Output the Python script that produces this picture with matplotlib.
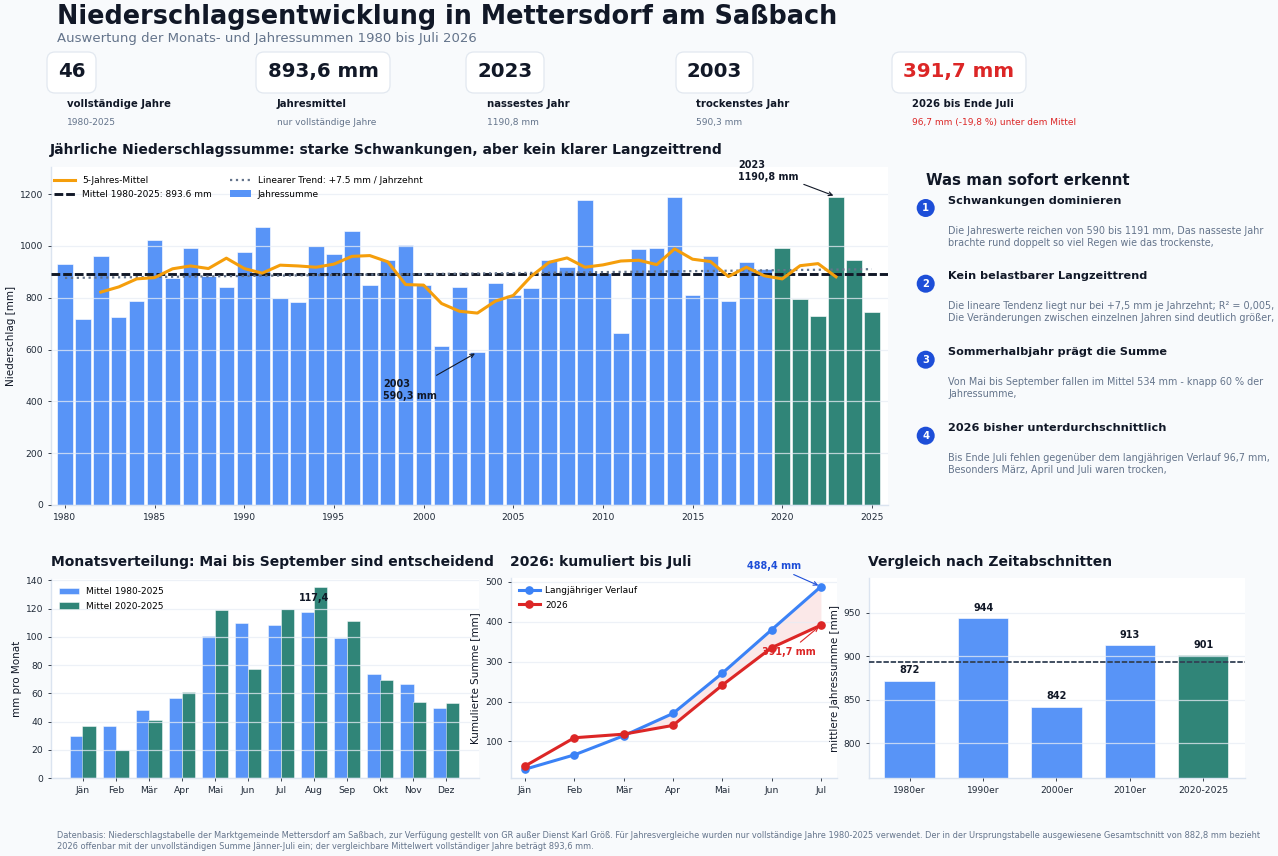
import matplotlib
matplotlib.use("Agg")
import matplotlib.pyplot as plt
from matplotlib.patches import FancyBboxPatch, Circle, Patch
from matplotlib.lines import Line2D

W, H = 1278, 856
BG = "#f8fafc"
INK = "#111827"
SLATE = "#64748b"
BLUE = "#3b82f6"
GREEN = "#0b7060"
RED = "#dc2626"
SPINE = "#dbe4f0"
GRID = "#e8edf5"
DASH = (0, (3, 1))

years = list(range(1980, 2026))
annual = [932, 719, 963, 724, 788, 1022, 875, 993, 884, 843, 978, 1075, 799, 785, 999,
          970, 1056, 848, 945, 1005, 848, 612, 840, 590.3, 856, 811, 838, 947, 918, 1178,
          894, 664, 988, 991, 1190, 812, 961, 789, 938, 913, 992, 796, 731, 1190.8, 946, 747]
ma_years = list(range(1982, 2024))
ma5 = [822, 842, 873, 878, 912, 923, 913, 953, 913, 895, 926, 923, 918, 930, 960, 963,
       939, 851, 849, 778, 748, 741, 787, 809, 883, 937, 954, 918, 927, 942, 945, 928,
       989, 949, 940, 882, 918, 885, 873, 924, 932, 881]
trend_years = [1980, 2025]
trend_vals = [876.7, 910.5]
mean_all = 893.6

months = ["Jän", "Feb", "Mär", "Apr", "Mai", "Jun", "Jul", "Aug", "Sep", "Okt", "Nov", "Dez"]
month_mean = [29.9, 36.5, 48.3, 56.6, 100.9, 109.8, 108.4, 117.4, 99, 73.5, 66.9, 49.5]
month_recent = [37, 20, 41, 60.8, 119.3, 77.3, 119.7, 135, 111, 69.5, 54.2, 53]

cum_months = months[:7]
cum_long = [30, 66, 114, 170, 271, 380, 488.4]
cum_2026 = [38, 109, 118, 140, 241, 335, 391.7]

periods = ["1980er", "1990er", "2000er", "2010er", "2020-2025"]
period_vals = [872, 944, 842, 913, 901]

kpi_values = ["46", "893,6 mm", "2023", "2003", "391,7 mm"]
kpi_labels = ["vollständige Jahre", "Jahresmittel", "nassestes Jahr", "trockenstes Jahr", "2026 bis Ende Juli"]
kpi_subs = ["1980-2025", "nur vollständige Jahre", "1190,8 mm", "590,3 mm", "96,7 mm (-19,8 %) unter dem Mittel"]

notes = [
    ("Schwankungen dominieren",
     "Die Jahreswerte reichen von 590 bis 1191 mm, Das nasseste Jahr\nbrachte rund doppelt so viel Regen wie das trockenste,"),
    ("Kein belastbarer Langzeittrend",
     "Die lineare Tendenz liegt nur bei +7,5 mm je Jahrzehnt; R² = 0,005,\nDie Veränderungen zwischen einzelnen Jahren sind deutlich größer,"),
    ("Sommerhalbjahr prägt die Summe",
     "Von Mai bis September fallen im Mittel 534 mm - knapp 60 % der\nJahressumme,"),
    ("2026 bisher unterdurchschnittlich",
     "Bis Ende Juli fehlen gegenüber dem langjährigen Verlauf 96,7 mm,\nBesonders März, April und Juli waren trocken,"),
]

footer = ("Datenbasis: Niederschlagstabelle der Marktgemeinde Mettersdorf am Saßbach, zur Verfügung gestellt von GR außer Dienst Karl Größ. "
          "Für Jahresvergleiche wurden nur vollständige Jahre 1980-2025 verwendet. Der in der Ursprungstabelle ausgewiesene Gesamtschnitt von 882,8 mm bezieht\n"
          "2026 offenbar mit der unvollständigen Summe Jänner-Juli ein; der vergleichbare Mittelwert vollständiger Jahre beträgt 893,6 mm.")

plt.rcParams["font.family"] = "DejaVu Sans"
fig = plt.figure(figsize=(W / 100, H / 100), dpi=100, facecolor=BG)


def axes_px(left, top, right, bottom):
    ax = fig.add_axes([left / W, 1 - bottom / H, (right - left) / W, (bottom - top) / H])
    ax.set_facecolor("white")
    for side in ["top", "right"]:
        ax.spines[side].set_visible(False)
    for side in ["left", "bottom"]:
        ax.spines[side].set_color(SPINE)
        ax.spines[side].set_linewidth(1)
    ax.tick_params(labelsize=6.6, length=2.5, width=0.6, colors="#1f2937", pad=3)
    ax.grid(axis="y", color=GRID, linewidth=0.9, alpha=0.75)
    ax.set_axisbelow(False)
    return ax


# main chart
ax = axes_px(51, 167, 888, 505)
colors = [GREEN if y >= 2020 else BLUE for y in years]
ax.bar(years, annual, width=0.86, color=colors, alpha=0.85, edgecolor="white", linewidth=0.5, zorder=2)
ax.axhline(mean_all, color=INK, linewidth=2.1, linestyle=DASH, zorder=3)
ax.plot(trend_years, trend_vals, color=SLATE, linewidth=1.6, linestyle=":", zorder=3)
ax.plot(ma_years, ma5, color="#f59e0b", linewidth=2.2, zorder=4)
ax.set_xlim(1979.22, 2025.9)
ax.set_ylim(0, 1305)
ax.set_xticks(range(1980, 2026, 5))
ax.set_yticks(range(0, 1201, 200))
ax.set_ylabel("Niederschlag [mm]", fontsize=7.5, color=INK)
ax.yaxis.set_label_coords(-0.042, 0.5)
handles = [Line2D([], [], color="#f59e0b", linewidth=2.2),
           Line2D([], [], color=INK, linewidth=2.1, linestyle=DASH),
           Line2D([], [], color=SLATE, linewidth=1.6, linestyle=":"),
           Patch(facecolor=BLUE, alpha=0.85)]
ax.legend(handles, ["5-Jahres-Mittel", "Mittel 1980-2025: 893.6 mm", "Linearer Trend: +7.5 mm / Jahrzehnt", "Jahressumme"],
          ncol=2, loc="upper left", bbox_to_anchor=(-0.003, 0.99), frameon=False, fontsize=6.5, borderaxespad=0.2,
          columnspacing=2, labelspacing=0.55, handlelength=2.35, handletextpad=0.75)
ax.annotate("2003\n590,3 mm", xy=(2003, 590.3), xytext=(1997.75, 443), fontsize=6.9, fontweight="bold",
            color=INK, ha="left", va="center", zorder=6,
            arrowprops=dict(arrowstyle="->", color=INK, linewidth=0.8))
ax.annotate("2023\n1190,8 mm", xy=(2023, 1190.8), xytext=(2017.53, 1290), fontsize=6.9, fontweight="bold",
            color=INK, ha="left", va="center", zorder=6, annotation_clip=False,
            arrowprops=dict(arrowstyle="->", color=INK, linewidth=0.8))

# monthly means
ax = axes_px(51, 579, 479, 778)
pos = list(range(12))
ax.bar([p - 0.19 for p in pos], month_mean, width=0.4, color=BLUE, alpha=0.85, edgecolor="white", linewidth=0.4, zorder=2, label="Mittel 1980-2025")
ax.bar([p + 0.19 for p in pos], month_recent, width=0.4, color=GREEN, alpha=0.85, edgecolor="white", linewidth=0.4, zorder=2, label="Mittel 2020-2025")
ax.text(7, 127.5, "117,4", ha="center", va="center", fontsize=6.9, fontweight="bold", color=INK, zorder=6)
ax.set_xlim(-0.96, 11.99)
ax.set_ylim(0, 141)
ax.set_xticks(pos)
ax.set_xticklabels(months)
ax.set_yticks(range(0, 141, 20))
ax.set_ylabel("mm pro Monat", fontsize=7.5, color=INK)
ax.yaxis.set_label_coords(-0.067, 0.5)
ax.legend(loc="upper left", frameon=False, fontsize=6.5, borderaxespad=0.5, labelspacing=0.6, handlelength=2.15, handletextpad=0.8)

# cumulative 2026
ax = axes_px(510.7, 578, 836.7, 778)
pos = list(range(7))
ax.fill_between(pos, cum_long, cum_2026, where=[a >= b for a, b in zip(cum_long, cum_2026)],
                color=RED, alpha=0.1, linewidth=0, interpolate=True, zorder=2)
ax.plot(pos, cum_long, color=BLUE, linewidth=2.2, marker="o", markersize=5.2, zorder=4, label="Langjähriger Verlauf")
ax.plot(pos, cum_2026, color=RED, linewidth=2.2, marker="o", markersize=5.2, zorder=5, label="2026")
ax.set_xlim(-0.29, 6.32)
ax.set_ylim(8, 510)
ax.set_xticks(pos)
ax.set_xticklabels(cum_months)
ax.set_yticks(range(100, 501, 100))
ax.set_ylabel("Kumulierte Summe [mm]", fontsize=7.5, color=INK)
ax.yaxis.set_label_coords(-0.095, 0.5)
ax.legend(loc="upper left", frameon=False, fontsize=6.5, borderaxespad=0.5, labelspacing=0.6, handlelength=2.35, handletextpad=0.6)
ax.annotate("488,4 mm", xy=(6, 488.4), xytext=(5.04, 541), fontsize=6.9, fontweight="bold", color="#1d4ed8",
            ha="center", va="center", annotation_clip=False, zorder=6,
            arrowprops=dict(arrowstyle="->", color="#1d4ed8", linewidth=0.8))
ax.annotate("391,7 mm", xy=(6, 391.7), xytext=(5.35, 325), fontsize=6.9, fontweight="bold", color=RED,
            ha="center", va="center", zorder=6,
            arrowprops=dict(arrowstyle="->", color=RED, linewidth=0.8))

# periods
ax = axes_px(868.7, 578, 1245, 778)
pos = list(range(5))
colors = [BLUE, BLUE, BLUE, BLUE, GREEN]
ax.bar(pos, period_vals, width=0.69, color=colors, alpha=0.85, edgecolor="white", linewidth=0.5, zorder=2)
ax.axhline(mean_all, color="#334155", linewidth=1.3, linestyle=DASH, zorder=3)
for p, v in zip(pos, period_vals):
    ax.text(p, v + 6, f"{v}", ha="center", va="bottom", fontsize=7, fontweight="bold", color=INK, zorder=6)
ax.set_xlim(-0.56, 4.57)
ax.set_ylim(760, 990)
ax.set_xticks(pos)
ax.set_xticklabels(periods)
ax.set_yticks([800, 850, 900, 950])
ax.set_ylabel("mittlere Jahressumme [mm]", fontsize=7.5, color=INK)
ax.yaxis.set_label_coords(-0.077, 0.5)

# everything placed by pixel: header, cards, side notes, footer
ov = fig.add_axes([0, 0, 1, 1], zorder=10)
ov.set_xlim(0, W)
ov.set_ylim(H, 0)
ov.axis("off")

ov.text(57, 17, "Niederschlagsentwicklung in Mettersdorf am Saßbach", fontsize=18.4, fontweight="bold", color=INK, va="center")
ov.text(57, 38.5, "Auswertung der Monats- und Jahressummen 1980 bis Juli 2026", fontsize=9.55, color=SLATE, va="center")

card_left = [47, 256, 466, 676, 892]
card_right = [96, 390, 544, 753, 1026]
label_x = [67, 277, 487, 696, 912]
for i in range(5):
    col = RED if i == 4 else INK
    ov.add_patch(FancyBboxPatch((card_left[i], 52), card_right[i] - card_left[i], 41,
                                boxstyle="round,pad=0,rounding_size=8", facecolor="white", edgecolor="#e2e8f0", linewidth=0.9))
    ov.text((card_left[i] + card_right[i]) / 2, 71, kpi_values[i], fontsize=14.2, fontweight="bold", color=col, ha="center", va="center")
    ov.text(label_x[i], 104, kpi_labels[i], fontsize=7.3, fontweight="bold", color=INK, va="center")
    ov.text(label_x[i], 122, kpi_subs[i], fontsize=6.5, color=RED if i == 4 else SLATE, va="center")

ov.text(50, 150, "Jährliche Niederschlagssumme: starke Schwankungen, aber kein klarer Langzeittrend", fontsize=10, fontweight="bold", color=INK, va="center")
ov.text(51, 562, "Monatsverteilung: Mai bis September sind entscheidend", fontsize=10, fontweight="bold", color=INK, va="center")
ov.text(510, 562, "2026: kumuliert bis Juli", fontsize=10, fontweight="bold", color=INK, va="center")
ov.text(868, 562, "Vergleich nach Zeitabschnitten", fontsize=10, fontweight="bold", color=INK, va="center")

ov.text(926, 180, "Was man sofort erkennt", fontsize=10.8, fontweight="bold", color=INK, va="center")
circle_y = [208, 283.7, 359.7, 435.7]
for i, (head, body) in enumerate(notes):
    cy = circle_y[i]
    ov.add_patch(Circle((925.7, cy), 9, facecolor="#1d4ed8", edgecolor="none"))
    ov.text(925.7, cy, str(i + 1), fontsize=7.2, fontweight="bold", color="white", ha="center", va="center")
    ov.text(948, cy - 7.3, head, fontsize=8.1, fontweight="bold", color=INK, va="center")
    ov.text(948, cy + 28.7, body, fontsize=6.9, color=SLATE, va="center", linespacing=1.25)

ov.text(57, 841, footer, fontsize=5.95, color=SLATE, va="center", linespacing=1.15)

fig.savefig("out.png", dpi=100, facecolor=BG)
